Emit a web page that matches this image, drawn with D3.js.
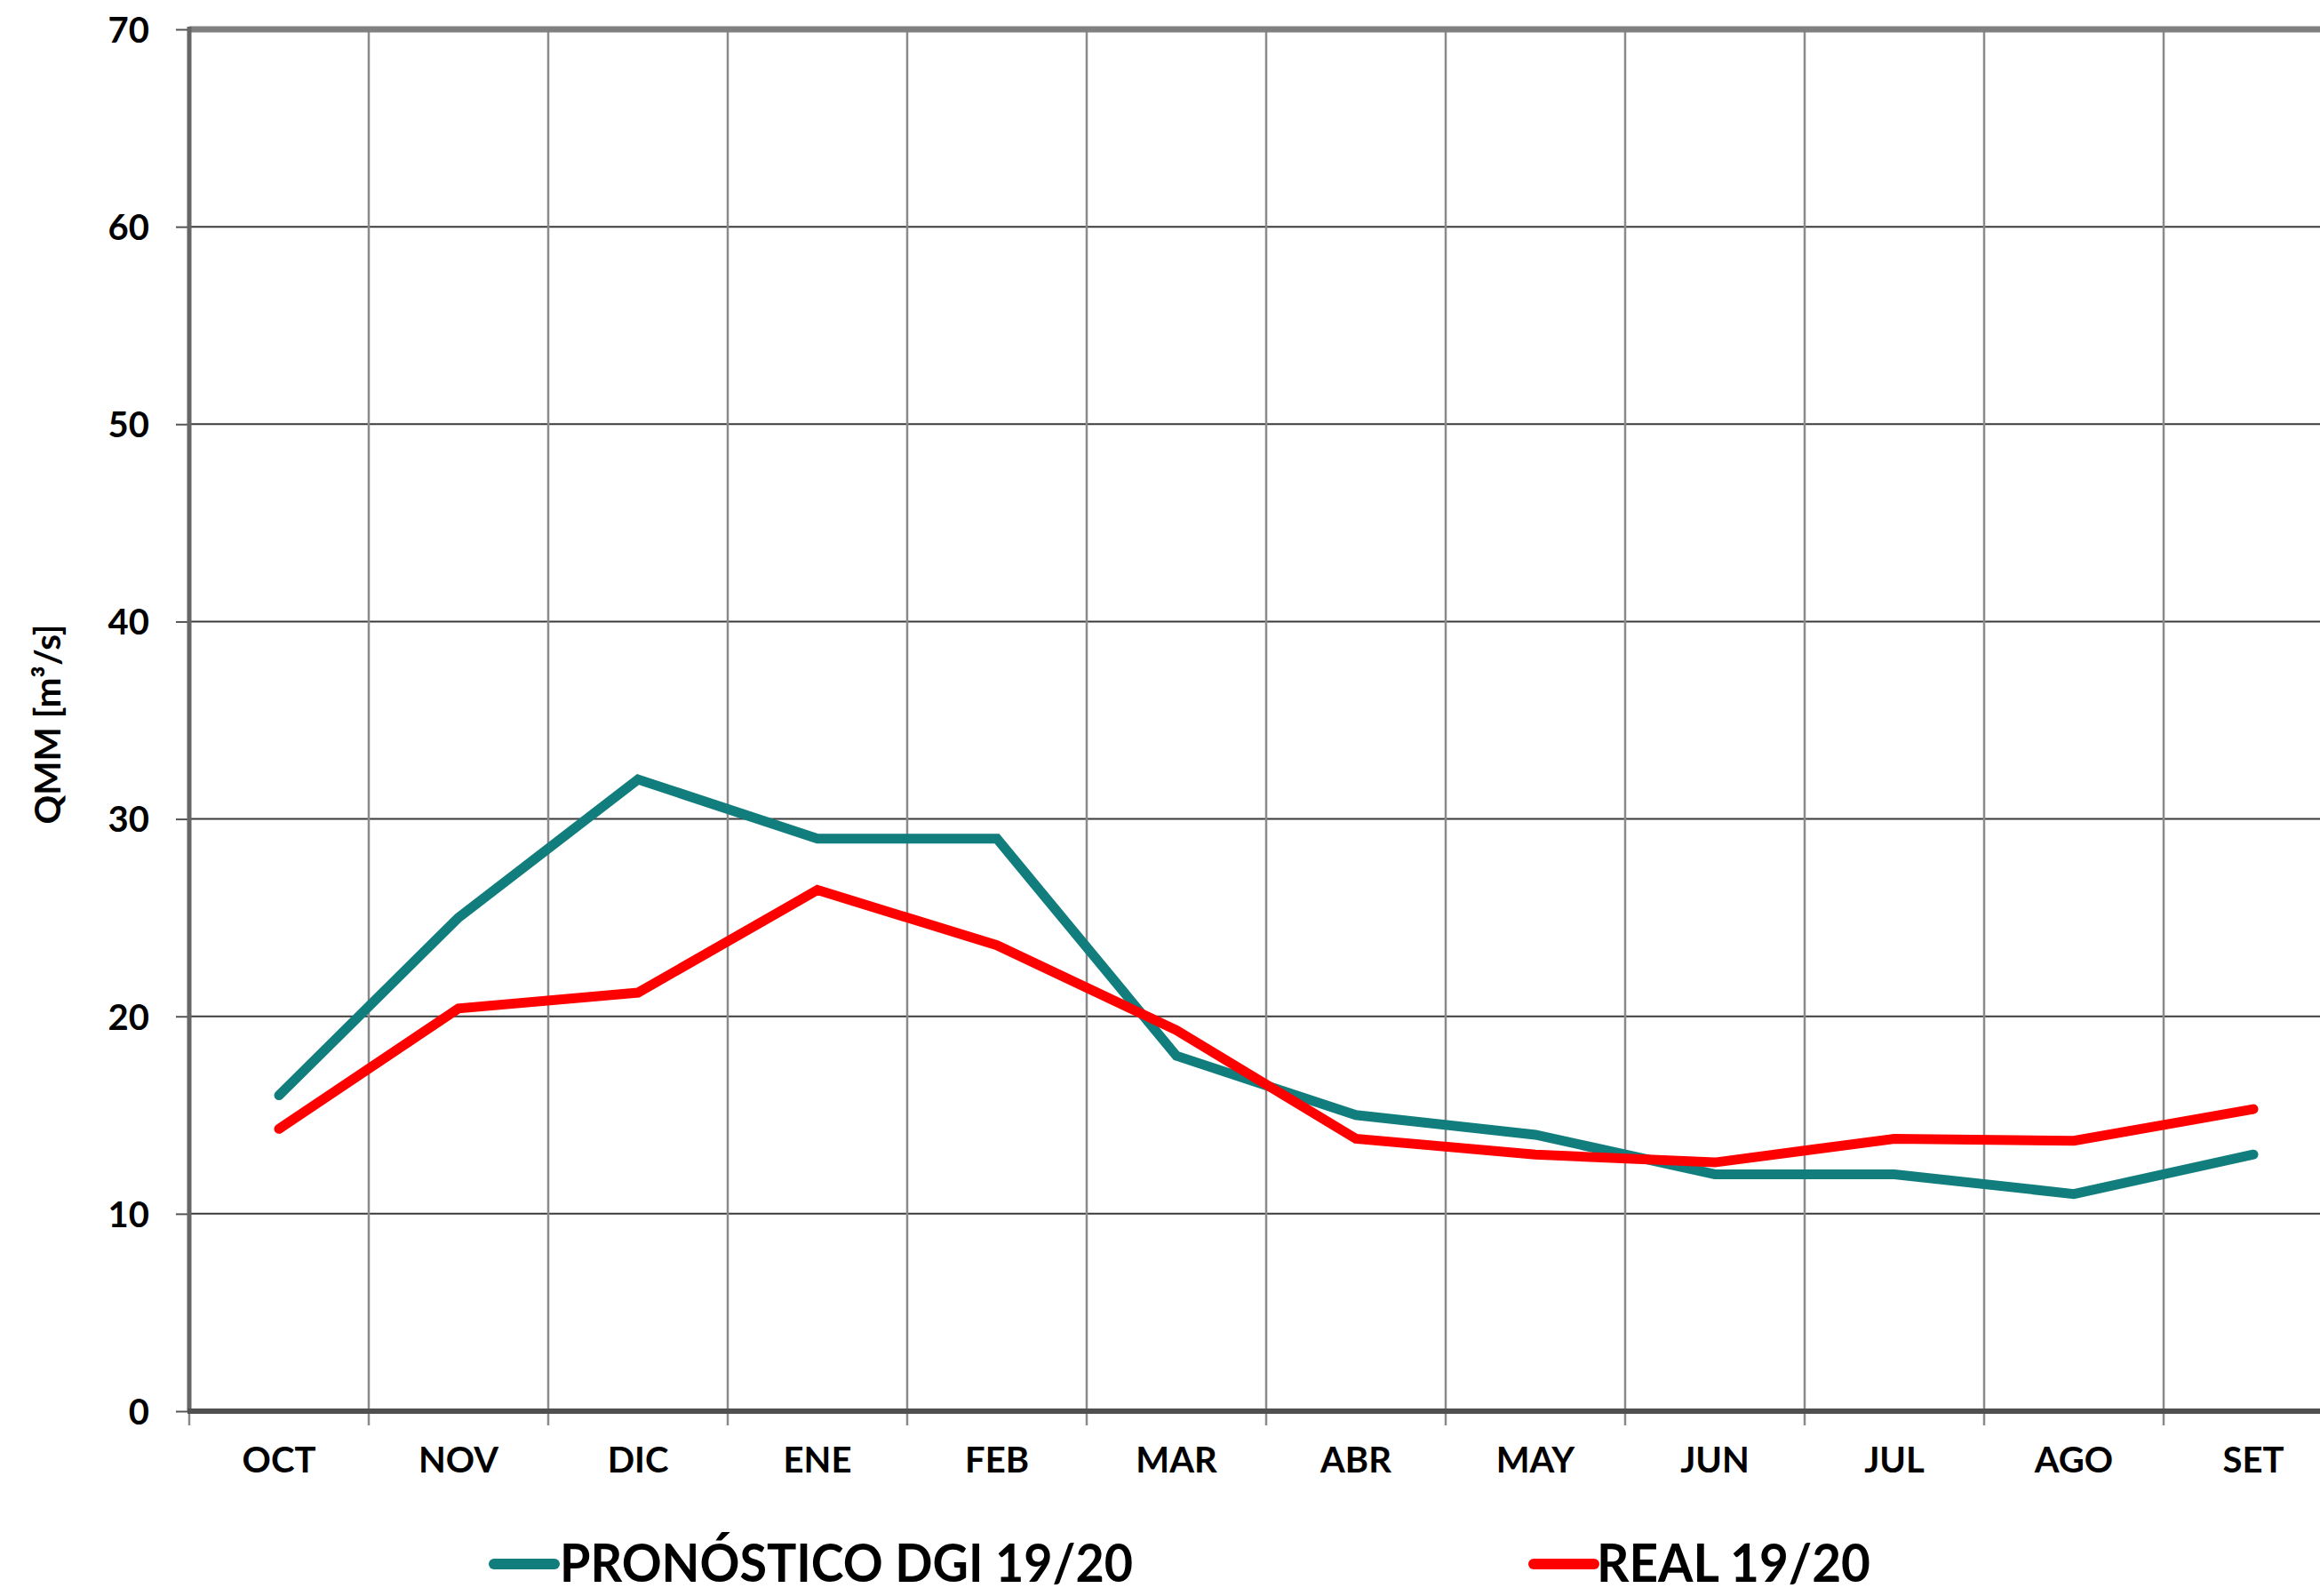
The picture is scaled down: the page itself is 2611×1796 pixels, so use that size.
<!DOCTYPE html>
<html>
<head>
<meta charset="utf-8">
<script src="https://cdn.jsdelivr.net/npm/d3@7"></script>
<style>
  html, body { margin: 0; padding: 0; background: #ffffff; overflow: hidden; }
  svg { display: block; }
  text { font-family: Lato, "Open Sans", "Liberation Sans", sans-serif; font-weight: 700; fill: #000; }
</style>
</head>
<body>
<script>
const months = ["OCT","NOV","DIC","ENE","FEB","MAR","ABR","MAY","JUN","JUL","AGO","SET"];
const pronostico = [16, 25, 32, 29, 29, 18, 15, 14, 12, 12, 11, 13];
const real = [14.3, 20.4, 21.2, 26.4, 23.6, 19.3, 13.8, 13.0, 12.6, 13.8, 13.7, 15.3];
const yTicks = [0, 10, 20, 30, 40, 50, 60, 70];
const seriesNames = ["PRONÓSTICO DGI 19/20", "REAL 19/20"];
const seriesColors = ["#127d7d", "#ff0000"];

(function () {
const W = 2611, H = 1796;
const pL = 213, pR = 2637, pT = 33, pB = 1588;

const svg = d3.select("body").append("svg").attr("width", W).attr("height", H);

const x = d3.scaleBand().domain(months).range([pL, pR]).paddingInner(0).paddingOuter(0);
const y = d3.scaleLinear().domain([0, 70]).range([pB, pT]);

// horizontal gridlines
svg.append("g").selectAll("line").data(yTicks.filter(v => v > 0 && v < 70)).join("line")
  .attr("x1", pL).attr("x2", W).attr("y1", d => y(d)).attr("y2", d => y(d))
  .attr("stroke", "#3a3a3a").attr("stroke-width", 2);

// vertical gridlines (category boundaries) and ticks below axis
const bounds = months.slice(1).map(m => x(m));
svg.append("g").selectAll("line").data(bounds).join("line")
  .attr("x1", d => d).attr("x2", d => d).attr("y1", pT).attr("y2", pB + 16)
  .attr("stroke", "#8a8a8a").attr("stroke-width", 2.5);

svg.append("line").attr("x1", pL).attr("x2", pL).attr("y1", pB).attr("y2", pB + 16)
  .attr("stroke", "#8a8a8a").attr("stroke-width", 2.5);

// y axis ticks and labels
const yAxis = d3.axisLeft(y).tickValues(yTicks).tickSize(15).tickPadding(30);
const gy = svg.append("g").attr("transform", `translate(${pL},0)`).call(yAxis);
gy.select(".domain").remove();
gy.selectAll(".tick line").attr("stroke", "#555").attr("stroke-width", 2);
gy.selectAll(".tick text").attr("font-size", 40).attr("font-family", "Lato, sans-serif")
  .attr("font-weight", 700).attr("fill", "#000").attr("dy", "0.36em");

// x axis labels
const xAxis = d3.axisBottom(x).tickSize(0).tickPadding(40);
const gx = svg.append("g").attr("transform", `translate(0,${pB})`).call(xAxis);
gx.select(".domain").remove();
gx.selectAll(".tick text").attr("font-size", 40).attr("font-family", "Lato, sans-serif")
  .attr("font-weight", 700).attr("fill", "#000").attr("dy", "0.72em");

// frame
svg.append("line").attr("x1", pL).attr("x2", W).attr("y1", pT).attr("y2", pT)
  .attr("stroke", "#808080").attr("stroke-width", 7);
svg.append("line").attr("x1", pL).attr("x2", pL).attr("y1", pT - 3).attr("y2", pB)
  .attr("stroke", "#666666").attr("stroke-width", 5);
svg.append("line").attr("x1", pL - 2).attr("x2", W).attr("y1", pB).attr("y2", pB)
  .attr("stroke", "#505050").attr("stroke-width", 6);

// series lines
const cx = m => x(m) + x.bandwidth() / 2;
const line = d3.line().x((d, i) => cx(months[i])).y(d => y(d));
[pronostico, real].forEach((s, i) => {
  svg.append("path").datum(s).attr("d", line).attr("fill", "none")
    .attr("stroke", seriesColors[i]).attr("stroke-width", 11)
    .attr("stroke-linejoin", "miter").attr("stroke-linecap", "round");
});

// y title
svg.append("text").attr("transform", `translate(68,815) rotate(-90)`)
  .attr("text-anchor", "middle").attr("font-size", 40).attr("font-weight", 600)
  .attr("textLength", 225).attr("lengthAdjust", "spacingAndGlyphs")
  .text("QMM [m³/s]");

// legend
const legendItems = [
  { name: seriesNames[0], color: seriesColors[0], x0: 556, x1: 624, tx: 630, len: 645 },
  { name: seriesNames[1], color: seriesColors[1], x0: 1726, x1: 1794, tx: 1797, len: 308 }
];
const lg = svg.append("g");
legendItems.forEach(it => {
  lg.append("line").attr("x1", it.x0).attr("x2", it.x1).attr("y1", 1760).attr("y2", 1760)
    .attr("stroke", it.color).attr("stroke-width", 12).attr("stroke-linecap", "round");
  lg.append("text").attr("x", it.tx).attr("y", 1780).attr("font-size", 60).attr("font-weight", 900)
    .attr("textLength", it.len).attr("lengthAdjust", "spacingAndGlyphs").text(it.name);
});
})();
</script>
</body>
</html>
